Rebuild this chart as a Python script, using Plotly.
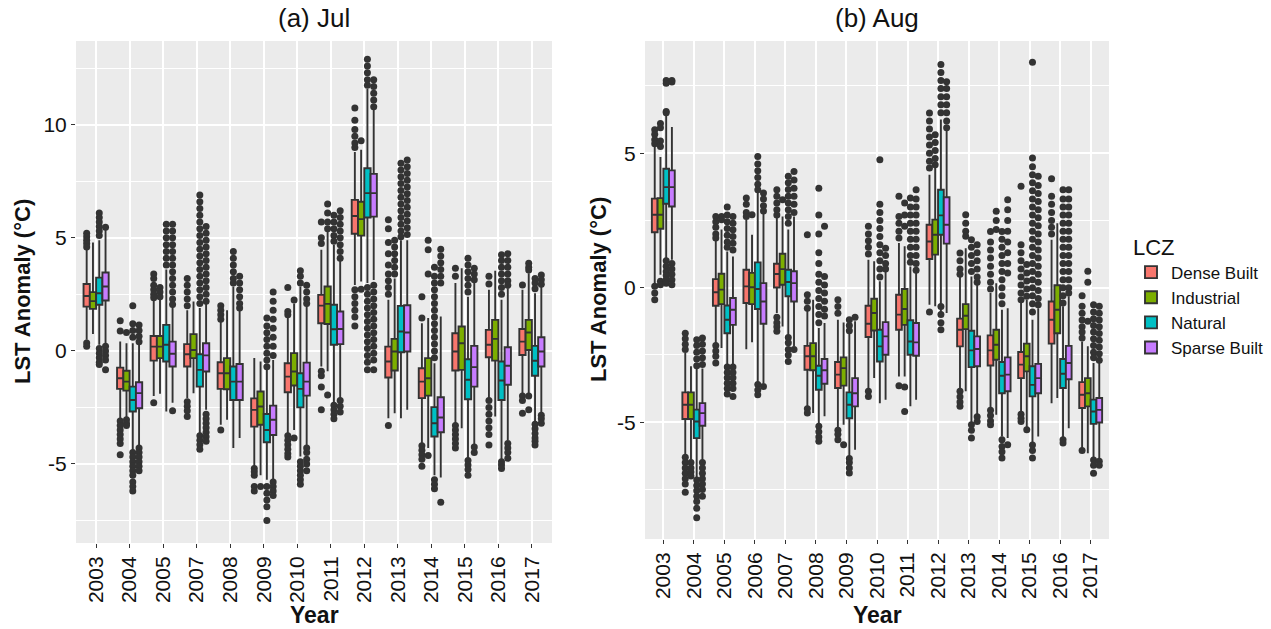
import plotly.graph_objects as go

# ---------------------------------------------------------------- data
LCZ = ["Dense Built", "Industrial", "Natural", "Sparse Built"]
COLORS = ["#F8766D", "#7CAE00", "#00BFC4", "#C77CFF"]

jul_years = ["2003", "2004", "2005", "2007", "2008", "2009", "2010",
             "2011", "2012", "2013", "2014", "2015", "2016", "2017"]
aug_years = ["2003", "2004", "2005", "2006", "2007", "2008", "2009", "2010",
             "2011", "2012", "2013", "2014", "2015", "2016", "2017"]

# July box statistics per LCZ: [lower whisker, Q1, median, Q3, upper whisker] per year
jul_dense = [
    [0.49, 1.96, 2.43, 2.96, 4.5], [-2.98, -1.68, -1.21, -0.74, 0.41],
    [-2.0, -0.43, 0.19, 0.66, 2.26], [-2.1, -0.69, -0.15, 0.3, 1.8],
    [-3.27, -1.68, -0.99, -0.5, 1.3], [-5.1, -3.35, -2.61, -2.1, -0.32],
    [-3.64, -1.83, -1.14, -0.55, 1.45], [-0.69, 1.22, 2.0, 2.48, 4.47],
    [2.92, 5.18, 5.97, 6.68, 8.8], [-2.98, -1.18, -0.47, 0.19, 2.26],
    [-4.08, -2.09, -1.36, -0.77, 1.22], [-3.2, -0.87, -0.03, 0.78, 3.0],
    [-2.1, -0.28, 0.27, 0.93, 2.7], [-1.95, -0.18, 0.41, 0.97, 2.7],
]
jul_industrial = [
    [0.75, 1.86, 2.2, 2.6, 4.8], [-3.02, -1.76, -1.36, -0.88, 0.34],
    [-1.9, -0.32, 0.19, 0.66, 2.26], [-1.87, -0.32, 0.04, 0.74, 2.18],
    [-3.05, -1.7, -0.99, -0.32, 1.8], [-5.5, -3.27, -2.46, -1.8, -0.47],
    [-3.5, -1.53, -0.91, -0.1, 2.1], [-0.9, 1.19, 2.08, 2.85, 5.3],
    [3.07, 5.1, 5.83, 6.6, 8.9], [-2.76, -0.87, -0.03, 0.53, 3.2],
    [-4.3, -1.98, -1.21, -0.32, 1.45], [-3.42, -0.84, 0.34, 1.08, 3.66],
    [-2.9, -0.43, 0.53, 1.37, 3.55], [-1.87, 0.04, 0.81, 1.37, 3.44],
]
jul_natural = [
    [0.27, 2.04, 2.55, 3.24, 4.9], [-4.4, -2.68, -2.17, -1.58, 0.34],
    [-2.68, -0.47, 0.27, 1.15, 3.6], [-3.64, -1.58, -0.84, -0.15, 1.9],
    [-4.3, -2.17, -1.36, -0.69, 2.85], [-5.7, -4.04, -3.5, -2.79, -0.84],
    [-4.67, -2.5, -1.68, -0.99, 2.85], [-2.3, 0.27, 0.96, 2.04, 4.7],
    [3.0, 5.9, 6.98, 8.08, 11.6], [-2.98, -0.06, 0.86, 1.99, 4.9],
    [-5.5, -3.79, -3.2, -2.49, -0.55], [-4.75, -2.14, -1.28, -0.37, 2.4],
    [-4.82, -2.17, -1.31, -0.47, 2.26], [-3.13, -1.1, -0.44, 0.22, 2.55],
]
jul_sparse = [
    [0.34, 2.23, 2.85, 3.47, 5.35], [-4.23, -2.54, -1.87, -1.39, 0.27],
    [-2.3, -0.69, -0.13, 0.41, 1.96], [-2.6, -0.91, -0.2, 0.34, 2.1],
    [-3.86, -2.17, -1.36, -0.58, 1.8], [-5.7, -3.72, -3.05, -2.42, -0.4],
    [-4.23, -1.98, -1.36, -0.52, 2.0], [-2.1, 0.3, 0.97, 1.74, 4.0],
    [3.14, 5.94, 6.98, 7.83, 10.66], [-2.6, -0.03, 0.81, 2.02, 4.9],
    [-5.6, -3.6, -2.95, -2.05, 1.52], [-4.2, -1.58, -0.72, 0.22, 3.0],
    [-3.97, -1.5, -0.66, 0.16, 2.77], [-2.76, -0.69, -0.03, 0.6, 2.85],
]

# July outliers per LCZ, one list per year
jul_dense_out = [
    [5.2, 5.05, 4.9, 4.75, 4.6, 0.35, 0.2],
    [1.33, 0.88, -3.1, -3.3, -3.5, -3.7, -3.9, -4.1, -4.6],
    [3.4, 3.2, 2.9, 2.7, 2.5, 2.35, -2.3],
    [3.2, 2.9, 2.6, 2.3, 2.0, -2.25, -2.45, -2.65, -2.9],
    [2.0, 1.8, 1.6, 1.4, -3.5],
    [-5.2, -5.35, -5.5, -6.0, -6.2],
    [2.8, 1.74, 1.6, -3.75, -3.95, -4.15, -4.35, -4.55, -4.7],
    [5.7, 5.0, 4.75, -0.9, -1.1, -1.6, -2.6],
    [10.75, 10.2, 9.8, 9.5, 9.2, 9.0, 2.7, 2.4, 2.1, 1.8, 1.5, 1.1],
    [5.8, 5.4, 4.8, 4.3, 3.8, 3.4, 3.1, 2.8, 2.5, -3.3],
    [2.4, 1.45, -4.2, -4.4, -4.6, -4.8, -5.1],
    [3.66, 3.3, -3.3, -3.5, -3.7, -3.9, -4.1, -4.3],
    [3.3, 2.96, -2.2, -2.5, -2.8, -3.1, -3.4, -3.7, -4.16],
    [2.92, -2.0, -2.2, -2.76],
]
jul_industrial_out = [
    [], [0.81, -3.05, -3.2, -3.3], [2.8, 2.6, 2.4], [], [], [-6.0],
    [2.25, -3.86], [6.5, 6.1, 5.7, 5.4, -1.95], [9.3, 2.73],
    [4.9, 4.6, 4.3, 4.0, 3.7, 3.4], [4.9, 4.47, 3.4, -4.63], [], [],
    [3.88, 3.7, 3.58, -2.0, -2.6],
]
jul_natural_out = [
    [6.1, 5.9, 5.7, 5.5, 5.3, 5.1, 0.1, -0.1, -0.3, -0.5, -0.6],
    [2.0, 1.2, 0.9, 0.6, -4.5, -4.7, -4.9, -5.1, -5.3, -5.5, -5.8, -6.0, -6.2],
    [5.6, 5.3, 5.0, 4.7, 4.4, 4.1, 3.8],
    [6.9, 6.6, 6.3, 6.0, 5.7, 5.4, 5.1, 4.8, 4.5, 4.2, 3.9, 3.6, 3.3, 3.0,
     2.7, 2.4, 2.1, -3.75, -3.95, -4.15, -4.35],
    [4.4, 4.1, 3.8, 3.5, 3.2, 3.0],
    [1.45, 1.1, 0.8, 0.5, 0.2, -0.1, -0.4, -0.7, -6.0, -6.3, -6.6, -6.9, -7.5],
    [3.55, 3.3, 3.0, -4.9, -5.1, -5.3, -5.5, -5.7, -5.9],
    [6.0, 5.7, 5.4, 5.1, 4.85, -2.4, -2.6, -2.8, -3.0],
    [12.9, 12.6, 12.3, 12.0, 11.75, 2.8, 2.5, 2.2, 1.9, 1.6, 1.3, 1.0, 0.7,
     0.4, 0.1, -0.2, -0.5, -0.84],
    [8.3, 8.0, 7.7, 7.4, 7.1, 6.8, 6.5, 6.2, 5.9, 5.6, 5.3, 5.05],
    [3.7, 3.3, 3.0, 2.7, 2.4, 2.1, 1.8, 1.5, 1.2, 0.9, 0.6, 0.3, 0.0, -0.3,
     -5.7, -5.9, -6.1],
    [4.1, 3.8, 3.5, 3.2, 2.9, 2.6, -4.85, -5.05, -5.25, -5.5],
    [4.25, 4.0, 3.7, 3.4, 3.1, 2.8, 2.5, -4.9, -5.05, -5.2],
    [3.2, 3.0, 2.75, -3.25, -3.45, -3.65, -3.85, -4.0, -4.16],
]
jul_sparse_out = [
    [5.47, 0.2, 0.0, -0.2, -0.4, -0.84],
    [1.15, 0.9, 0.65, 0.4, -4.3, -4.5, -4.7, -4.9, -5.1, -5.3],
    [5.6, 5.3, 5.0, 4.7, 4.4, 4.1, 3.8, 3.5, 3.2, 2.9, 2.6, 2.3, 2.05, -2.65],
    [5.5, 5.2, 4.9, 4.6, 4.3, 4.0, 3.7, 3.4, 3.1, 2.8, 2.5, 2.2,
     -2.8, -3.0, -3.2, -3.4, -3.6, -3.8, -4.0],
    [3.3, 3.0, 2.7, 2.4, 2.1, 1.9],
    [2.6, 2.2, 1.8, 1.4, 1.0, 0.6, 0.2, -0.2, -5.8, -6.0, -6.2, -6.4],
    [2.9, 2.6, 2.3, 2.1, -4.3, -4.5, -4.8, -5.0, -5.3],
    [6.2, 5.9, 5.6, 5.3, 5.0, 4.7, 4.4, 4.1, -2.2, -2.45, -2.7],
    [12.0, 11.7, 11.4, 11.1, 10.8, 2.9, 2.6, 2.3, 2.0, 1.7, 1.4, 1.1, 0.8,
     0.5, 0.2, -0.1, -0.4, -0.84],
    [8.45, 8.15, 7.85, 7.55, 7.25, 6.95, 6.65, 6.35, 6.05, 5.75, 5.45, 5.15],
    [4.5, 4.2, 3.9, 3.6, 3.3, 3.0, -6.7],
    [3.66, 3.4, 3.15, -4.25, -4.5],
    [4.3, 4.0, 3.7, 3.4, 3.1, 2.9, -4.1, -4.3, -4.5, -4.75],
    [3.36, 3.15, 2.95, -2.85, -3.0, -3.2],
]

# August box statistics per LCZ
aug_dense = [
    [0.17, 2.06, 2.71, 3.31, 5.25], [-6.2, -4.88, -4.35, -3.89, -2.43],
    [-2.06, -0.67, -0.17, 0.32, 1.78], [-2.29, -0.57, 0.05, 0.67, 2.53],
    [-0.94, 0.01, 0.51, 0.89, 2.59], [-4.41, -3.05, -2.55, -2.16, -0.84],
    [-5.22, -3.73, -3.23, -2.76, -1.19], [-3.79, -1.83, -1.34, -0.67, 1.04],
    [-3.3, -1.56, -1.0, -0.26, 1.66], [-0.63, 1.07, 1.72, 2.34, 4.2],
    [-3.73, -2.18, -1.56, -1.15, 0.42], [-4.47, -2.89, -2.33, -1.77, -0.2],
    [-4.6, -3.36, -2.86, -2.39, -0.57], [-4.29, -2.08, -1.19, -0.51, 1.78],
    [-5.96, -4.47, -3.98, -3.51, -2.0],
]
aug_industrial = [
    [0.48, 2.19, 2.71, 3.33, 4.86], [-6.39, -4.88, -4.35, -3.89, -2.92],
    [-2.24, -0.61, -0.07, 0.52, 2.16], [-2.03, -0.61, 0.02, 0.55, 1.97],
    [-1.44, 0.11, 0.69, 1.26, 2.65], [-4.66, -3.07, -2.55, -2.06, -0.45],
    [-5.09, -3.64, -2.99, -2.59, -1.29], [-3.36, -1.59, -0.94, -0.41, 0.98],
    [-3.3, -1.38, -0.79, -0.05, 1.54], [-0.69, 1.23, 1.97, 2.53, 4.45],
    [-3.85, -1.54, -1.04, -0.61, 1.47], [-4.72, -2.68, -2.12, -1.56, 0.17],
    [-5.22, -3.11, -2.55, -2.08, -0.45], [-4.1, -1.69, -0.82, 0.09, 2.4],
    [-6.15, -4.41, -3.92, -3.36, -2.18],
]
aug_natural = [
    [1.04, 3.12, 3.74, 4.42, 6.4], [-7.07, -5.59, -4.97, -4.53, -2.99],
    [-2.86, -1.69, -1.19, -0.66, 1.35], [-3.54, -0.79, -0.05, 0.94, 3.52],
    [-1.75, -0.32, 0.21, 0.67, 2.16], [-5.09, -3.79, -3.27, -2.9, -1.5],
    [-6.27, -4.85, -4.35, -3.89, -1.69], [-4.29, -2.74, -2.18, -1.56, 0.24],
    [-4.41, -2.49, -2.0, -1.21, 0.79], [-0.94, 1.97, 2.69, 3.64, 6.25],
    [-5.03, -2.95, -2.33, -1.6, 0.42], [-5.53, -3.92, -3.27, -2.76, -0.82],
    [-5.77, -4.04, -3.61, -2.92, -1.19], [-5.59, -3.73, -3.2, -2.65, -0.69],
    [-6.3, -5.06, -4.6, -4.16, -2.8],
]
aug_sparse = [
    [1.04, 3.02, 3.74, 4.36, 5.97], [-6.39, -5.13, -4.66, -4.29, -3.0],
    [-2.86, -1.38, -0.82, -0.38, 1.16], [-3.54, -1.34, -0.51, 0.17, 2.78],
    [-2.18, -0.51, 0.17, 0.61, 2.65], [-4.78, -3.57, -3.07, -2.65, -1.31],
    [-6.02, -4.41, -3.92, -3.36, -1.25], [-4.16, -2.49, -1.81, -1.28, 0.61],
    [-4.16, -2.53, -2.03, -1.31, 0.55], [-0.94, 1.64, 2.34, 3.36, 5.87],
    [-4.72, -2.92, -2.28, -1.81, 0.11], [-5.59, -3.85, -3.23, -2.59, -0.76],
    [-5.53, -3.92, -3.36, -2.83, -0.76], [-5.22, -3.4, -2.8, -2.16, -0.32],
    [-6.4, -5.01, -4.54, -4.1, -2.8],
]

aug_dense_out = [
    [5.87, 5.7, 5.5, 5.35, 0.05, -0.2, -0.45],
    [-1.69, -1.9, -2.1, -2.3, -6.3, -6.5, -6.7, -6.9, -7.1, -7.3, -7.6],
    [2.65, 2.45, 2.25, 2.0, 1.85, -2.15, -2.35, -2.55, -2.8],
    [3.33, 3.1, 2.8, 2.65],
    [3.64, 3.4, 3.15, 2.9, 2.7, -1.1, -1.3, -1.45, -1.62],
    [1.97, -0.26, -0.5, -0.76, -4.5, -4.66],
    [-0.45, -0.7, -0.95, -5.3, -5.45, -5.65],
    [2.28, 2.0, 1.75, 1.5, 1.25, -3.85, -4.04],
    [3.4, 2.65, 2.4, 2.1, 1.85, -3.64],
    [6.49, 6.2, 5.9, 5.6, 5.3, 5.0, 4.7, 4.45, -0.9],
    [1.29, 1.0, 0.7, 0.5, -3.85, -4.05, -4.25, -4.41],
    [2.09, 1.7, 1.4, 1.1, 0.8, 0.5, 0.2, -0.05, -4.55, -4.75, -4.95, -5.09],
    [3.77, 1.6, 1.3, 1.0, 0.7, 0.4, 0.1, -0.2, -0.45, -4.7, -4.85, -4.97],
    [4.05, 3.4, 3.1, 2.8, 2.5, 2.25, 2.0],
    [-0.3, -0.69, -0.95, -1.2, -1.45, -1.65, -1.87, -6.05],
]
aug_industrial_out = [
    [6.1, 5.95, 5.45, 5.25, 0.24, 0.11], [-6.5, -6.7, -6.85, -7.0],
    [2.65, 2.53], [2.71], [3.27], [], [-5.84], [],
    [3.15, 2.7, 2.28, -3.69, -4.6], [5.69, 5.4, 5.1, 4.8, 4.57],
    [2.71, 2.4, 2.1, 1.91], [2.84, 2.5, 2.16],
    [0.86, 0.55, 0.25, -0.05, -0.32, -5.28], [], [0.61, 0.2, -1.25],
]
aug_natural_out = [
    [7.7, 7.6, 6.55, 6.5, 1.0, 0.8, 0.6, 0.45, 0.3, 0.17],
    [-1.93, -2.15, -2.4, -2.65, -2.9, -7.15, -7.35, -7.55, -7.75, -7.95,
     -8.2, -8.55],
    [3.0, 2.7, 2.45, 2.2, 1.95, 1.7, 1.5, -2.95, -3.15, -3.35, -3.55, -3.75,
     -3.95],
    [4.88, 4.6, 4.35, 4.1, 3.85, 3.64, -3.6, -3.8, -3.98],
    [4.14, 3.9, 3.65, 3.4, 3.15, 2.9, 2.65, 2.4, -1.85, -2.05, -2.3, -2.5,
     -2.74],
    [3.7, 2.7, 2.0, 1.3, 0.9, 0.5, 0.2, -0.1, -0.4, -0.7, -1.0, -1.3,
     -5.15, -5.35, -5.55, -5.71],
    [-1.19, -1.4, -1.6, -6.35, -6.5, -6.7, -6.89],
    [4.76, 3.1, 2.8, 2.5, 2.2, 1.9, 1.6, 1.3, 1.0, 0.7, 0.4],
    [3.33, 3.0, 2.7, 2.4, 2.1, 1.8, 1.5, 1.2, 0.95],
    [8.3, 8.0, 7.7, 7.4, 7.1, 6.8, 6.5, -0.7, -1.0, -1.3, -1.56],
    [1.78, 1.5, 1.2, 0.9, 0.6, -5.09, -5.3, -5.59],
    [2.09, 1.8, 1.5, 1.2, 0.9, 0.6, 0.3, 0.0, -0.3, -0.6, -5.65, -5.9,
     -6.1, -6.33],
    [8.38, 4.82, 4.5, 4.2, 3.9, 3.6, 3.3, 3.0, 2.7, 2.4, 2.1, 1.8, 1.5,
     1.2, 0.9, 0.6, 0.3, 0.0, -0.3, -0.6, -0.9, -5.85, -6.05, -6.33],
    [3.64, 3.3, 3.0, 2.7, 2.4, 2.1, 1.8, 1.5, 1.2, 0.9, 0.6, 0.3, 0.0,
     -0.3, -0.57, -5.65, -5.77],
    [-0.63, -0.9, -1.15, -1.4, -1.65, -1.9, -2.15, -2.4, -2.6, -6.4, -6.6,
     -6.9],
]
aug_sparse_out = [
    [7.7, 7.65, 0.9, 0.7, 0.5, 0.3, 0.11],
    [-1.87, -2.1, -2.35, -2.6, -2.85, -6.5, -6.7, -6.9, -7.1, -7.3, -7.5,
     -7.75],
    [2.65, 2.4, 2.15, 1.9, 1.65, 1.4, -2.95, -3.15, -3.35, -3.55, -3.75,
     -4.04],
    [3.52, 3.3, 3.05, 2.85, -3.67],
    [4.32, 4.0, 3.7, 3.4, 3.1, 2.8, -2.3],
    [2.28, 0.42, 0.1, -0.2, -0.5, -0.8, -1.05],
    [-1.1],
    [1.47, 1.2, 0.9, 0.7],
    [3.64, 3.3, 3.0, 2.7, 2.4, 2.1, 1.8, 1.5, 1.2, 0.9, 0.65],
    [7.66, 7.4, 7.1, 6.8, 6.5, 6.2, 5.95],
    [1.6, 1.3, 1.0, 0.7, 0.4, 0.2, -4.8, -4.97],
    [3.27, 2.9, 2.5, 2.1, 1.7, 1.3, 0.9, 0.55, -5.84],
    [4.14, 3.8, 3.5, 3.2, 2.9, 2.6, 2.3, 2.0, 1.7, 1.4, 1.1, 0.8, 0.5, 0.2,
     -0.1, -0.4, -0.63],
    [3.64, 3.3, 3.0, 2.7, 2.4, 2.1, 1.8, 1.5, 1.2, 0.9, 0.6, 0.3, 0.0, -0.2],
    [-0.69, -0.95, -1.2, -1.45, -1.7, -1.95, -2.2, -2.45, -2.7, -6.45, -6.6],
]

# ---------------------------------------------------------------- layout constants
W, H = 1271, 629
FONT = "Liberation Sans, Arial, sans-serif"
INK = "#333333"
TEXT = "#111111"
PANEL_BG = "#EBEBEB"
DODGE = [-0.28125, -0.09375, 0.09375, 0.28125]   # ggplot dodge, width 0.75
BOX_W = 0.1875


def px_x(p):
    return p / W


def px_y(p):
    return 1 - p / H


fig = go.Figure()

panels = [
    (jul_years, [jul_dense, jul_industrial, jul_natural, jul_sparse],
     [jul_dense_out, jul_industrial_out, jul_natural_out, jul_sparse_out],
     "x", "y", True),
    (aug_years, [aug_dense, aug_industrial, aug_natural, aug_sparse],
     [aug_dense_out, aug_industrial_out, aug_natural_out, aug_sparse_out],
     "x2", "y2", False),
]

for years, stats, outs, xa, ya, show in panels:
    ox, oy = [], []
    for k, name in enumerate(LCZ):
        xs = [i + DODGE[k] for i in range(len(years))]
        s = stats[k]
        fig.add_trace(go.Box(
            x=xs,
            lowerfence=[r[0] for r in s], q1=[r[1] for r in s],
            median=[r[2] for r in s], q3=[r[3] for r in s],
            upperfence=[r[4] for r in s],
            width=BOX_W, whiskerwidth=0, boxpoints=False,
            fillcolor=COLORS[k], line=dict(color=INK, width=1.9),
            name=name, legendgroup=name, showlegend=show,
            xaxis=xa, yaxis=ya, hoverinfo="skip",
        ))
        for i, vals in enumerate(outs[k]):
            for v in vals:
                ox.append(xs[i])
                oy.append(v)
    # outliers of all groups on top of the boxes
    fig.add_trace(go.Scatter(
        x=ox, y=oy, mode="markers",
        marker=dict(color=INK, size=7, line=dict(width=0)),
        showlegend=False, xaxis=xa, yaxis=ya, hoverinfo="skip",
    ))

axis_common = dict(
    showline=False, zeroline=False, ticks="outside", ticklen=4,
    tickcolor=INK, tickwidth=1, gridcolor="white", gridwidth=1.6,
    tickfont=dict(family=FONT, size=21, color=TEXT), automargin=False,
)

fig.update_layout(
    width=W, height=H,
    margin=dict(l=0, r=0, t=0, b=0),
    paper_bgcolor="white", plot_bgcolor=PANEL_BG,
    boxmode="overlay", font=dict(family=FONT, color=TEXT),
    xaxis=dict(axis_common, domain=[px_x(76), px_x(552)], range=[-0.6, 13.6],
               tickmode="array", tickvals=list(range(len(jul_years))),
               ticktext=jul_years, tickangle=-90, anchor="y"),
    yaxis=dict(axis_common, domain=[px_y(543), px_y(41)], range=[-8.5, 13.71],
               tickmode="array", tickvals=[-5, 0, 5, 10], ticktext=["-5", "0", "5", "10"],
               minor=dict(tickvals=[-7.5, -2.5, 2.5, 7.5, 12.5], showgrid=True,
                          gridcolor="white", gridwidth=0.8, ticks=""),
               anchor="x"),
    xaxis2=dict(axis_common, domain=[px_x(645), px_x(1109)], range=[-0.6, 14.6],
                tickmode="array", tickvals=list(range(len(aug_years))),
                ticktext=aug_years, tickangle=-90, anchor="y2"),
    yaxis2=dict(axis_common, domain=[px_y(539), px_y(41)], range=[-9.34, 9.17],
                tickmode="array", tickvals=[-5, 0, 5], ticktext=["-5", "0", "5"],
                minor=dict(tickvals=[-7.5, -2.5, 2.5, 7.5], showgrid=True,
                           gridcolor="white", gridwidth=0.8, ticks=""),
                anchor="x2"),
    legend=dict(
        title=dict(text="LCZ", font=dict(family=FONT, size=22, color=TEXT)),
        x=px_x(1131), y=px_y(226), xanchor="left", yanchor="top",
        font=dict(family=FONT, size=17, color=TEXT),
        bgcolor="rgba(0,0,0,0)", tracegroupgap=0, itemwidth=30,
    ),
)

annotations = [
    dict(text="(a) Jul", x=px_x(314), y=px_y(18)),
    dict(text="(b) Aug", x=px_x(877), y=px_y(18)),
]
for a in annotations:
    fig.add_annotation(xref="paper", yref="paper", showarrow=False,
                       xanchor="center", yanchor="middle",
                       font=dict(family=FONT, size=26, color=TEXT), **a)

for xc, yc in [(22, 292), (598, 290)]:
    fig.add_annotation(text="<b>LST Anomaly (°C)</b>", textangle=-90,
                       xref="paper", yref="paper", x=px_x(xc), y=px_y(yc),
                       showarrow=False, xanchor="center", yanchor="middle",
                       font=dict(family=FONT, size=22, color=TEXT))
for xc in (314, 877):
    fig.add_annotation(text="<b>Year</b>", xref="paper", yref="paper",
                       x=px_x(xc), y=px_y(615), showarrow=False,
                       xanchor="center", yanchor="middle",
                       font=dict(family=FONT, size=23, color=TEXT))

fig.write_html("out.html")
